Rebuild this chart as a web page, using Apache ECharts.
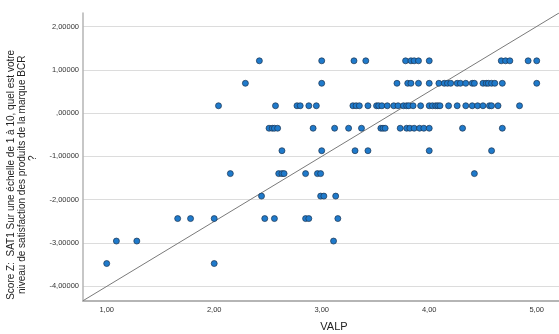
<!DOCTYPE html>
<html>
<head>
<meta charset="utf-8">
<script src="https://cdn.jsdelivr.net/npm/echarts@6/dist/echarts.min.js"></script>
<style>
  html, body { margin: 0; padding: 0; background: #fff; }
  #chart { width: 559px; height: 334px; }
</style>
</head>
<body>
<div id="chart"></div>
<script>
// Z-score levels of SAT1 (one per answer on the 1-10 scale that occurs)
const scoreLevels = [1.21, 0.69, 0.17, -0.35, -0.87, -1.40, -1.92, -2.44, -2.96, -3.48];

// VALP values observed at each score level
const valpAt121 = [2.42, 3.00, 3.30, 3.41, 3.78, 3.83, 3.86, 3.90, 4.00, 4.67, 4.71, 4.75, 4.92, 5.00];
const valpAt069 = [2.29, 3.00, 3.70, 3.80, 3.83, 3.90, 4.00, 4.09, 4.14, 4.17, 4.20, 4.26, 4.29, 4.34, 4.40, 4.42, 4.50, 4.53, 4.55, 4.58, 4.61, 4.68, 5.00];
const valpAt017 = [2.04, 2.57, 2.77, 2.80, 2.88, 2.95, 3.29, 3.32, 3.35, 3.43, 3.51, 3.53, 3.56, 3.61, 3.67, 3.71, 3.76, 3.79, 3.81, 3.85, 3.92, 4.00, 4.03, 4.06, 4.08, 4.10, 4.18, 4.26, 4.34, 4.40, 4.45, 4.50, 4.56, 4.58, 4.64, 4.84];
const valpAtM035 = [2.51, 2.54, 2.56, 2.59, 2.92, 3.12, 3.25, 3.37, 3.55, 3.57, 3.59, 3.73, 3.79, 3.82, 3.86, 3.91, 3.95, 4.00, 4.31, 4.68];
const valpAtM087 = [2.63, 3.00, 3.31, 3.43, 4.00, 4.58];
const valpAtM140 = [2.15, 2.60, 2.63, 2.65, 2.85, 2.96, 2.99, 4.42];
const valpAtM192 = [2.44, 2.99, 3.02, 3.13];
const valpAtM244 = [1.66, 1.78, 2.00, 2.47, 2.56, 2.85, 2.88, 3.15];
const valpAtM296 = [1.09, 1.28, 3.11];
const valpAtM348 = [1.00, 2.00];

const valpByLevel = [valpAt121, valpAt069, valpAt017, valpAtM035, valpAtM087,
                     valpAtM140, valpAtM192, valpAtM244, valpAtM296, valpAtM348];

// Reference line end points [VALP, score]
const refLineX = [0.78, 5.207];
const refLineY = [-4.34, 2.316];

// Tick labels
const xTicks = [1, 2, 3, 4, 5];
const yTicks = [-4, -3, -2, -1, 0, 1, 2];

const points = [];
valpByLevel.forEach((xs, i) => {
  xs.forEach(x => points.push([x, scoreLevels[i]]));
});
const refLine = refLineX.map((x, i) => [x, refLineY[i]]);

function fmtY(v) {
  if (v === 0) return ',00000';
  return v.toFixed(5).replace('.', ',');
}
function fmtX(v) {
  return v.toFixed(2).replace('.', ',');
}

// the closing "?" sits a little higher than the centre of the two long lines
const yTitle = 'Score Z:  SAT1 Sur une échelle de 1 à 10, quel est votre\n' +
               'niveau de satisfaction des produits de la marque BCR\n' +
               '            ?';

const chart = echarts.init(document.getElementById('chart'), null, { renderer: 'canvas' });
chart.setOption({
  animation: false,
  backgroundColor: '#ffffff',
  grid: { left: 83, top: 13, bottom: 33.3, right: -26, containLabel: false, outerBoundsMode: 'none' },
  xAxis: {
    type: 'value',
    min: 0.7795,
    max: 5.449,
    name: 'VALP',
    nameLocation: 'middle',
    nameGap: 21,
    nameTextStyle: { fontFamily: 'Liberation Sans, Arial', fontSize: 11, color: '#222' },
    axisLine: { show: true, onZero: false, lineStyle: { color: '#b5b5b5', width: 2 } },
    axisTick: { show: false, customValues: xTicks },
    axisLabel: {
      customValues: xTicks,
      formatter: fmtX,
      fontFamily: 'Liberation Sans, Arial',
      fontSize: 7.5,
      color: '#333',
      margin: 5
    },
    splitLine: { show: false }
  },
  yAxis: {
    type: 'value',
    min: -4.34,
    max: 2.316,
    name: yTitle,
    nameLocation: 'middle',
    nameRotate: 90,
    nameGap: 31.5,
    nameTextStyle: {
      fontFamily: 'Liberation Sans, Arial',
      fontSize: 10,
      color: '#222',
      lineHeight: 11,
      align: 'center',
      padding: [0, 36, 0, 0]
    },
    axisLine: { show: true, onZero: false, lineStyle: { color: '#b5b5b5', width: 1.5 } },
    axisTick: { show: false, customValues: yTicks },
    axisLabel: {
      customValues: yTicks,
      formatter: fmtY,
      fontFamily: 'Liberation Sans, Arial',
      fontSize: 7.5,
      color: '#333',
      margin: 4
    },
    splitLine: { show: true, lineStyle: { color: '#dcdcdc', width: 1 } }
  },
  series: [
    {
      type: 'line',
      data: refLine,
      symbol: 'none',
      clip: true,
      silent: true,
      lineStyle: { color: '#7a7a7a', width: 1 },
      z: 1
    },
    {
      type: 'scatter',
      data: points,
      symbol: 'circle',
      symbolSize: 6,
      itemStyle: { color: '#1f7acb', borderColor: '#1b3450', borderWidth: 0.7, opacity: 1 },
      z: 3
    }
  ]
});
</script>
</body>
</html>
